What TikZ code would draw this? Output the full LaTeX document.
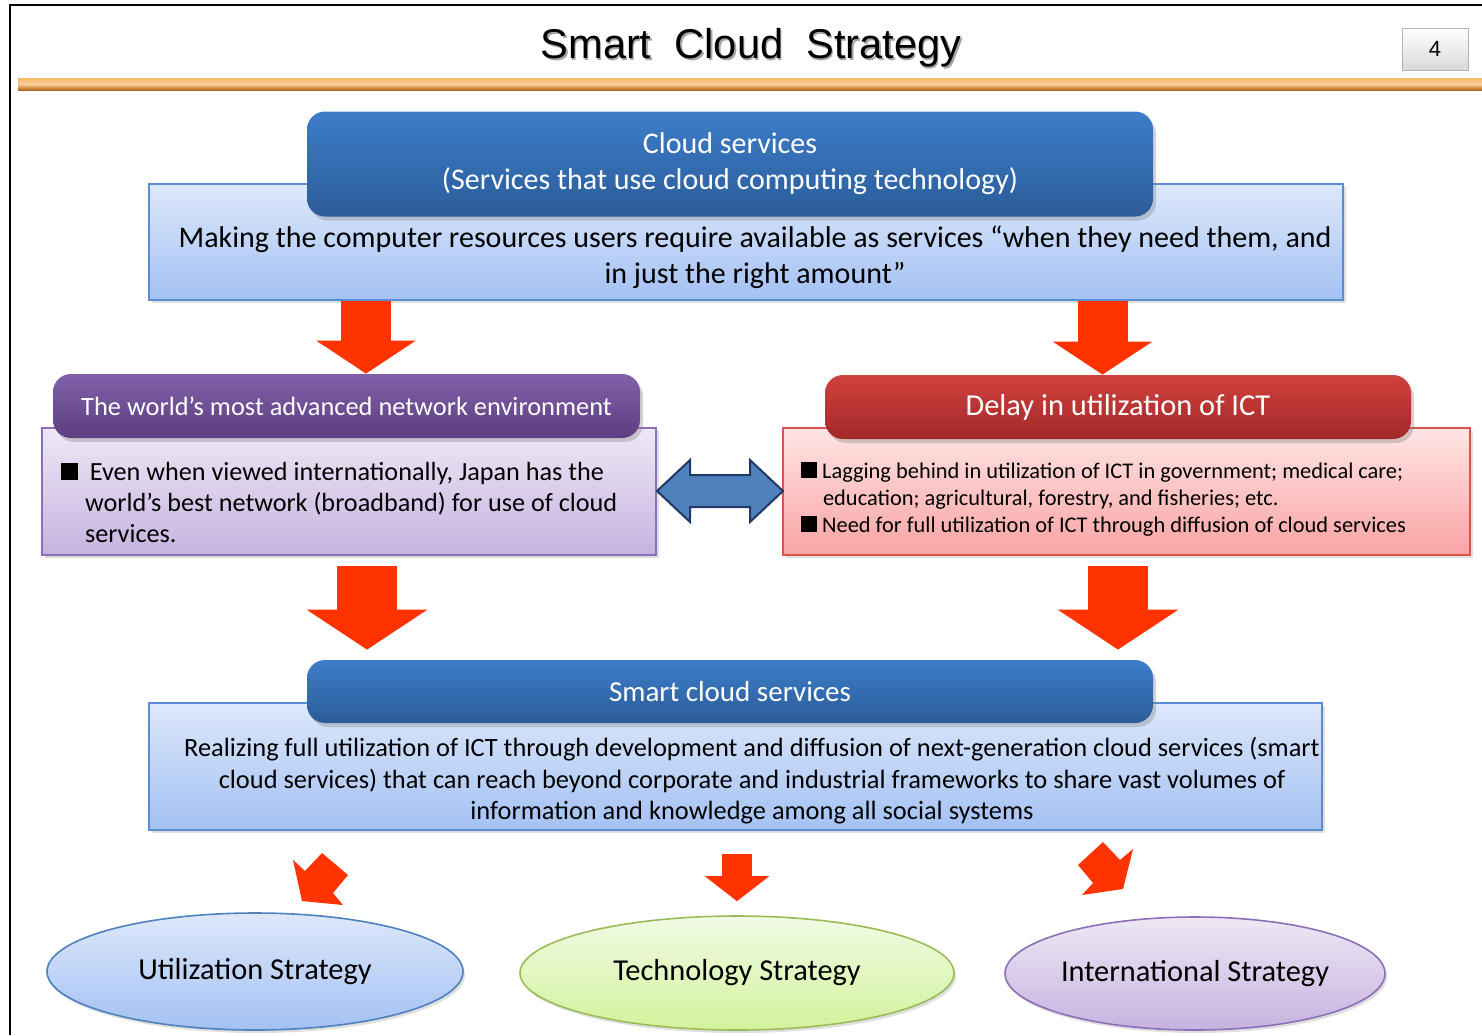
\documentclass[tikz,border=0pt]{standalone}
\usepackage{fontspec}
\setmainfont{Carlito}
\newfontfamily\titlefont{Liberation Sans}
\usetikzlibrary{shapes.geometric,arrows.meta,shadows}

\definecolor{redarrow}{HTML}{FF3300}
\definecolor{blueheadA}{HTML}{3D7DCA}
\definecolor{blueheadB}{HTML}{2B5C98}
\definecolor{bluebodyA}{HTML}{DDE8FB}
\definecolor{bluebodyB}{HTML}{A3C1F3}
\definecolor{blueline}{HTML}{5B8BD0}
\definecolor{purpheadA}{HTML}{8060A9}
\definecolor{purpheadB}{HTML}{5E3E80}
\definecolor{purpbodyA}{HTML}{EEE8F5}
\definecolor{purpbodyB}{HTML}{C6B3E0}
\definecolor{purpline}{HTML}{8C6FB8}
\definecolor{redheadA}{HTML}{D0413D}
\definecolor{redheadB}{HTML}{A22828}
\definecolor{redbodyA}{HTML}{FFE5E5}
\definecolor{redbodyB}{HTML}{F9A3A3}
\definecolor{redline}{HTML}{D9534F}
\definecolor{greenA}{HTML}{F1FBE4}
\definecolor{greenB}{HTML}{D3F29C}
\definecolor{greenline}{HTML}{9BBB59}
\definecolor{dblarrow}{HTML}{4F81BD}
\definecolor{dblline}{HTML}{1F3864}
\definecolor{barA}{HTML}{F6B967}
\definecolor{barB}{HTML}{B9651A}

\tikzset{
  header/.style={rounded corners=9pt, inner sep=0pt, text=white,
    drop shadow={shadow xshift=1.5pt, shadow yshift=-2pt, opacity=0.35}},
  body/.style={draw, line width=0.8pt, inner sep=0pt,
    drop shadow={shadow xshift=1.5pt, shadow yshift=-1.5pt, opacity=0.25}},
  strategy/.style={ellipse, draw, line width=0.8pt, inner sep=0pt,
    font=\fontsize{15.2}{18}\selectfont,
    drop shadow={shadow xshift=1pt, shadow yshift=-1.5pt, opacity=0.25}},
  redblock/.style={redarrow, line width=25pt,
    -{Triangle[length=16.5pt, width=49pt]}},
  bigblock/.style={redarrow, line width=30pt,
    -{Triangle[length=20pt, width=59.5pt]}},
  smallblock/.style={redarrow, line width=15pt,
    -{Triangle[length=12.5pt, width=31.5pt]}},
}

\newcommand{\sq}{\rule{8.5pt}{8.5pt}}
\newcommand{\smallsq}{\rule{8pt}{8pt}}

\begin{document}
\begin{tikzpicture}[x=0.5pt, y=-0.5pt]
\useasboundingbox (0,0) rectangle (1482,1035);
\draw[line width=1pt] (10,1035) -- (10,5) -- (1482,5);

\node[text=black!50, opacity=0.7, font=\titlefont\fontsize{20.8}{25}\selectfont] at (752.5,49.5) {Smart\ \ Cloud\ \ Strategy};
\node[font=\titlefont\fontsize{20.8}{25}\selectfont] (title) at (751,48) {Smart\ \ Cloud\ \ Strategy};
\node[draw=gray!60, top color=white, bottom color=gray!30, minimum width=33pt, minimum height=21pt,
  inner sep=0pt, font=\titlefont\fontsize{11}{13}\selectfont] (page) at (1435,49) {4};
\shade[top color=barA, bottom color=barB, middle color=barA!70!white] (18,78) rectangle (1482,90);

\node[body, draw=blueline, top color=bluebodyA, bottom color=bluebodyB,
  minimum width=597pt, minimum height=58pt] (cloudbody) at (746,242) {};
\node[font=\fontsize{15}{18}\selectfont, align=center] (cloudtxt) at (755,257)
  {Making the computer resources users require available as services “when they need them, and\\ in just the right amount”};
\node[header, top color=blueheadA, bottom color=blueheadB, minimum width=423pt, minimum height=52.5pt,
  align=center, font=\fontsize{15}{18}\selectfont] (cloudhead) at (730,164)
  {Cloud services\\(Services that use cloud computing technology)};

\node[body, draw=purpline, top color=purpbodyA, bottom color=purpbodyB,
  minimum width=307pt, minimum height=63.5pt] (netbody) at (349,491.5) {};
\node[anchor=west, align=left, font=\fontsize{13.1}{15.5}\selectfont] (nettxt) at (54,502)
  {\sq\ \ Even when viewed internationally, Japan has the\\
   \hspace{12pt}world’s best network (broadband) for use of cloud\\
   \hspace{12pt}services.};
\node[header, top color=purpheadA, bottom color=purpheadB, minimum width=293.5pt, minimum height=32pt,
  font=\fontsize{13.2}{15}\selectfont] (nethead) at (346.5,406) {The world’s most advanced network environment};

\node[body, draw=redline, top color=redbodyA, bottom color=redbodyB,
  minimum width=343.5pt, minimum height=63.5pt] (ictbody) at (1126.5,491.5) {};
\node[anchor=west, align=left, font=\fontsize{11.2}{13.5}\selectfont] (icttxt) at (794,499)
  {\smallsq\ Lagging behind in utilization of ICT in government; medical care;\\
   \hspace{11pt}education; agricultural, forestry, and fisheries; etc.\\
   \smallsq\ Need for full utilization of ICT through diffusion of cloud services};
\node[header, top color=redheadA, bottom color=redheadB, minimum width=293pt, minimum height=32pt,
  font=\fontsize{15.2}{17}\selectfont] (icthead) at (1118,407) {Delay in utilization of ICT};

\draw[redblock] ([xshift=9.75pt]nethead.north |- cloudbody.south) -- ([xshift=9.75pt]nethead.north);
\draw[redblock] ([xshift=-7.75pt]icthead.north |- cloudbody.south) -- ([xshift=-7.75pt]icthead.north);

\draw[fill=dblarrow, draw=dblline, line width=1pt] (657,491) -- (690,460) -- (690,475) -- (750,475)
  -- (750,460) -- (783,491) -- (750,522) -- (750,507) -- (690,507) -- (690,522) -- cycle;

\node[body, draw=blueline, top color=bluebodyA, bottom color=bluebodyB,
  minimum width=586.5pt, minimum height=63.5pt] (smartbody) at (735.5,766.5) {};
\node[font=\fontsize{13.2}{15.75}\selectfont, align=center] (smarttxt) at (752,781)
  {Realizing full utilization of ICT through development and diffusion of next-generation cloud services (smart\\
   cloud services) that can reach beyond corporate and industrial frameworks to share vast volumes of\\
   information and knowledge among all social systems};
\node[header, top color=blueheadA, bottom color=blueheadB, minimum width=423pt, minimum height=31.5pt,
  font=\fontsize{14.5}{17}\selectfont] (smarthead) at (730,691.5) {Smart cloud services};

\draw[bigblock] ([xshift=9pt,yshift=-5pt]netbody.south) -- ([xshift=9pt,yshift=5pt]netbody.south |- smarthead.north);
\draw[bigblock] ([xshift=-4.25pt,yshift=-5pt]ictbody.south) -- ([xshift=-4.25pt,yshift=5pt]ictbody.south |- smarthead.north);

\node[strategy, draw=dblarrow, top color=bluebodyA, bottom color=bluebodyB,
  minimum width=208pt, minimum height=58.5pt] (util) at (255,971.5) {Utilization Strategy};
\node[strategy, draw=greenline, top color=greenA, bottom color=greenB,
  minimum width=217pt, minimum height=57pt] (tech) at (737,973) {Technology Strategy};
\node[strategy, draw=purpline, top color=purpbodyA, bottom color=purpbodyB,
  minimum width=190pt, minimum height=56.5pt] (intl) at (1195,973.5) {International Strategy};

\fill[redarrow] (293,860) -- (305,871) -- (322,853) -- (348,875) -- (333,893) -- (343,905) -- (302,901) -- cycle;
\draw[smallblock] ([yshift=-11.5pt]smartbody.south -| tech.north) -- ([yshift=7pt]tech.north);
\fill[redarrow] (1078,865) -- (1103,842) -- (1120,860) -- (1133,849) -- (1123,889) -- (1082,895) -- (1093,883) -- cycle;
\end{tikzpicture}
\end{document}
